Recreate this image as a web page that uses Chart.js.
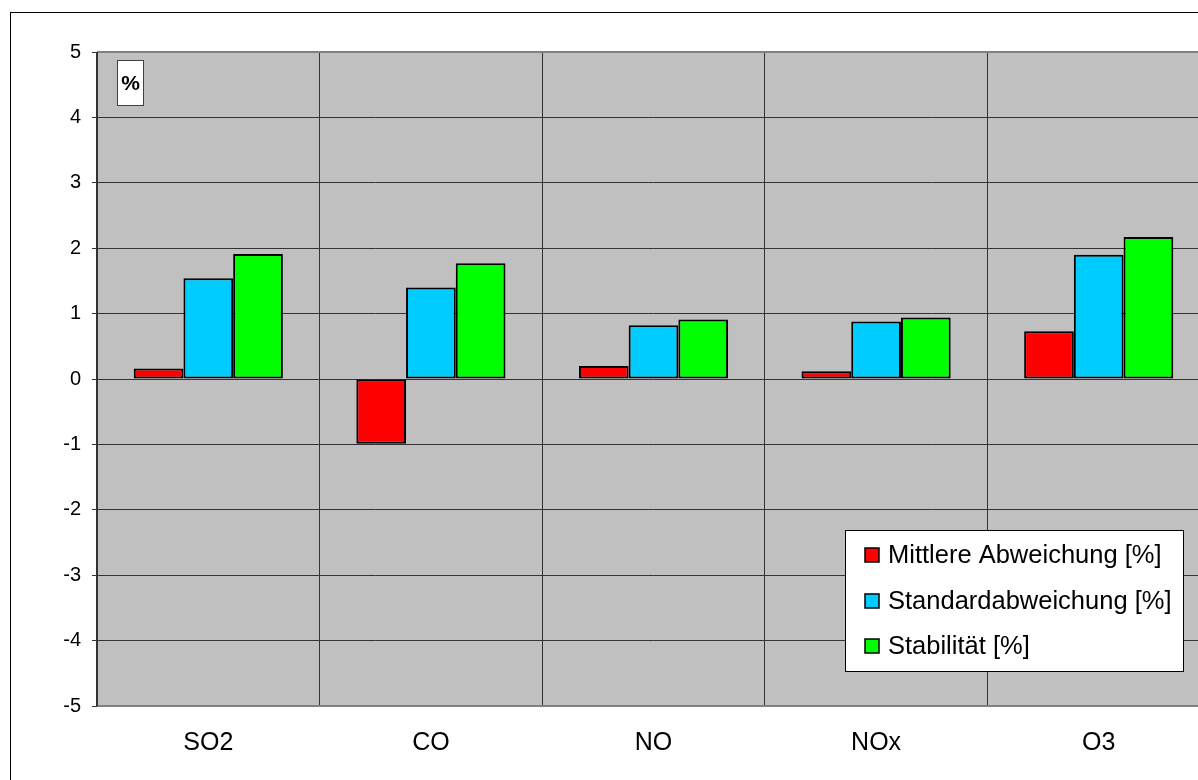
<!DOCTYPE html>
<html>
<head>
<meta charset="utf-8">
<script src="https://cdn.jsdelivr.net/npm/chart.js@4/dist/chart.umd.min.js"></script>
<style>
  html, body { margin: 0; padding: 0; background: #ffffff; overflow: hidden; }
  #wrap { width: 1198px; height: 780px; overflow: hidden; position: relative; }
  canvas { display: block; }
</style>
</head>
<body>
<div id="wrap"><canvas id="c" width="1211" height="780"></canvas></div>
<script>
// Messkomponenten und Kennwerte der Prüfung (in %)
const categories = ['SO2', 'CO', 'NO', 'NOx', 'O3'];
const mittlereAbweichung = [0.16, -0.99, 0.20, 0.12, 0.73];
const standardabweichung = [1.54, 1.40, 0.82, 0.88, 1.90];
const stabilitaet = [1.91, 1.77, 0.91, 0.94, 2.17];
const seriesLabels = ['Mittlere Abweichung [%]', 'Standardabweichung [%]', 'Stabilität [%]'];
const seriesColors = ['#ff0000', '#00ccff', '#00ff00'];
const yMin = -5, yMax = 5, yStep = 1;
const unitLabel = '%';

const FONT = '"Liberation Sans", Arial, sans-serif';

// Frame, plot background and border
const backdrop = {
  id: 'backdrop',
  beforeDraw(chart) {
    const { ctx, chartArea: a } = chart;
    ctx.save();
    ctx.strokeStyle = '#000000';
    ctx.lineWidth = 1;
    ctx.strokeRect(10.5, 12.5, 3000, 3000);
    ctx.fillStyle = '#c0c0c0';
    ctx.fillRect(a.left, a.top, a.right - a.left, a.bottom - a.top);
    ctx.restore();
  },
  beforeDatasetsDraw(chart) {
    const { ctx, chartArea: a } = chart;
    ctx.save();
    ctx.strokeStyle = '#808080';
    ctx.lineWidth = 2;
    ctx.beginPath();
    ctx.moveTo(a.left, a.top);
    ctx.lineTo(a.right, a.top);
    ctx.moveTo(a.left, a.bottom);
    ctx.lineTo(a.right, a.bottom);
    ctx.stroke();
    ctx.strokeStyle = '#333333';
    ctx.beginPath();
    ctx.moveTo(a.left, a.top);
    ctx.lineTo(a.left, a.bottom);
    ctx.stroke();
    ctx.restore();
  }
};

// Unit box in the upper left and legend box in the lower right of the plot
const boxes = {
  id: 'boxes',
  afterDraw(chart) {
    const { ctx, chartArea: a } = chart;
    ctx.save();

    // unit box
    const ux = a.left + 20, uy = a.top + 8, uw = 27, uh = 46;
    ctx.fillStyle = '#ffffff';
    ctx.fillRect(ux, uy, uw, uh);
    ctx.strokeStyle = '#404040';
    ctx.lineWidth = 1;
    ctx.strokeRect(ux + 0.5, uy + 0.5, uw - 1, uh - 1);
    ctx.fillStyle = '#000000';
    ctx.font = 'bold 21px ' + FONT;
    ctx.textAlign = 'center';
    ctx.textBaseline = 'middle';
    ctx.fillText(unitLabel, ux + uw / 2, uy + uh / 2 + 1);

    // legend
    ctx.font = '25.5px ' + FONT;
    const items = chart.data.datasets.map(d => ({ text: d.label, color: d.backgroundColor }));
    const textW = Math.max(...items.map(i => ctx.measureText(i.text).width));
    const padL = 20, sw = 14, gap = 9, padR = 12, padT = 25, rowH = 45.5, padB = 26;
    const bw = Math.round(padL + sw + gap + textW + padR);
    const bh = Math.round(padT + rowH * (items.length - 1) + padB);
    const bx = Math.round(a.right - 26 - bw);
    const by = Math.round(a.bottom - 34 - bh);
    ctx.fillStyle = '#ffffff';
    ctx.fillRect(bx, by, bw, bh);
    ctx.strokeStyle = '#000000';
    ctx.strokeRect(bx + 0.5, by + 0.5, bw - 1, bh - 1);
    ctx.textAlign = 'left';
    ctx.textBaseline = 'middle';
    items.forEach((it, i) => {
      const cy = by + padT + i * rowH;
      const sx = bx + padL;
      ctx.fillStyle = it.color;
      ctx.fillRect(sx, Math.round(cy - sw / 2), sw, sw);
      ctx.strokeStyle = '#000000';
      ctx.lineWidth = 1.5;
      ctx.strokeRect(sx, Math.round(cy - sw / 2), sw, sw);
      ctx.fillStyle = '#000000';
      ctx.fillText(it.text, sx + sw + gap, cy + 1);
    });
    ctx.restore();
  }
};

const seriesValues = [mittlereAbweichung, standardabweichung, stabilitaet];

new Chart(document.getElementById('c'), {
  type: 'bar',
  data: {
    labels: categories,
    datasets: seriesValues.map((vals, i) => ({
      label: seriesLabels[i],
      data: vals,
      backgroundColor: seriesColors[i],
      borderColor: '#000000',
      borderWidth: 2,
      borderSkipped: false,
      barPercentage: 1.0,
      categoryPercentage: 0.67
    }))
  },
  options: {
    responsive: false,
    animation: false,
    devicePixelRatio: 1,
    layout: { padding: { top: 52, left: 0, right: 1, bottom: 0 } },
    plugins: {
      legend: { display: false },
      tooltip: { enabled: false }
    },
    scales: {
      x: {
        offset: true,
        grid: {
          offset: true,
          color: '#333333',
          lineWidth: 1,
          drawTicks: false
        },
        border: { display: false },
        ticks: {
          color: '#000000',
          font: { family: FONT, size: 25 },
          padding: 22,
          maxRotation: 0
        },
        afterFit(scale) { scale.height = 74; }
      },
      y: {
        min: yMin,
        max: yMax,
        grid: {
          color: '#333333',
          lineWidth: 1,
          tickLength: 5,
          tickColor: '#333333'
        },
        border: { display: false },
        ticks: {
          stepSize: yStep,
          color: '#000000',
          font: { family: FONT, size: 20 },
          padding: 11
        },
        afterFit(scale) { scale.width = 97; }
      }
    }
  },
  plugins: [backdrop, boxes]
});
</script>
</body>
</html>
